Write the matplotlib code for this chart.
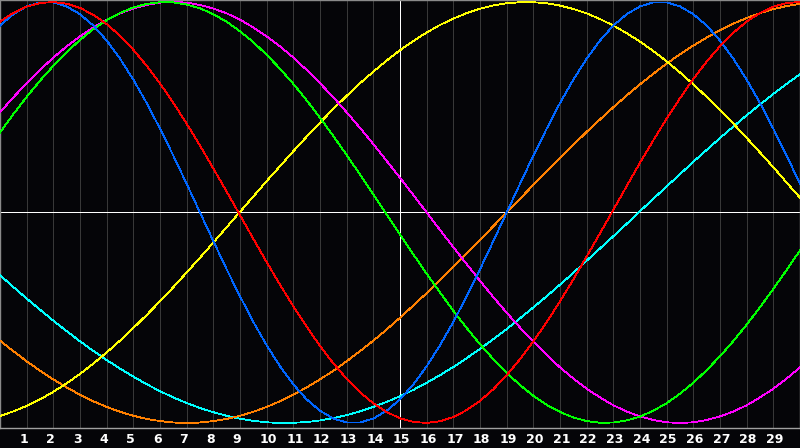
import numpy as np
import matplotlib
matplotlib.use("Agg")
import matplotlib.pyplot as plt
import matplotlib.transforms as mtransforms

# %%
# values every half day (day 0 .. 30), scale -1 .. 1
days = [i / 2 for i in range(61)]
day_labels = [str(d) for d in range(1, 30)]

blue = [0.888, 0.942, 0.979, 0.998, 0.998, 0.979, 0.942, 0.888, 0.817, 0.731,
        0.631, 0.520, 0.398, 0.270, 0.136, 0.000, -0.136, -0.270, -0.398, -0.520,
        -0.631, -0.731, -0.817, -0.888, -0.942, -0.979, -0.998, -0.998, -0.979, -0.942,
        -0.888, -0.817, -0.731, -0.631, -0.520, -0.398, -0.270, -0.136, 0.000, 0.136,
        0.270, 0.398, 0.520, 0.631, 0.731, 0.817, 0.888, 0.942, 0.979, 0.998,
        0.998, 0.979, 0.942, 0.888, 0.817, 0.731, 0.631, 0.520, 0.398, 0.270, 0.136]
red = [0.907, 0.948, 0.978, 0.995, 1.000, 0.992, 0.972, 0.939, 0.895, 0.840,
       0.773, 0.697, 0.613, 0.521, 0.422, 0.318, 0.209, 0.099, -0.013, -0.125,
       -0.236, -0.343, -0.446, -0.543, -0.634, -0.717, -0.790, -0.854, -0.907, -0.948,
       -0.978, -0.995, -1.000, -0.992, -0.972, -0.939, -0.895, -0.840, -0.773, -0.697,
       -0.613, -0.521, -0.422, -0.318, -0.209, -0.099, 0.013, 0.125, 0.236, 0.343,
       0.446, 0.543, 0.634, 0.717, 0.790, 0.854, 0.907, 0.948, 0.978, 0.995, 1.000]
green = [0.380, 0.467, 0.549, 0.626, 0.697, 0.762, 0.820, 0.871, 0.914, 0.948,
         0.974, 0.991, 0.999, 0.998, 0.988, 0.970, 0.942, 0.906, 0.861, 0.809,
         0.749, 0.683, 0.611, 0.533, 0.450, 0.363, 0.273, 0.180, 0.086, -0.010,
         -0.105, -0.199, -0.291, -0.380, -0.467, -0.549, -0.626, -0.697, -0.762, -0.820,
         -0.871, -0.914, -0.948, -0.974, -0.991, -0.999, -0.998, -0.988, -0.970, -0.942,
         -0.906, -0.861, -0.809, -0.749, -0.683, -0.611, -0.533, -0.450, -0.363, -0.273, -0.180]
magenta = [0.476, 0.547, 0.614, 0.677, 0.736, 0.789, 0.837, 0.879, 0.916, 0.946,
           0.969, 0.986, 0.997, 1.000, 0.997, 0.986, 0.969, 0.946, 0.916, 0.879,
           0.837, 0.789, 0.736, 0.677, 0.614, 0.547, 0.476, 0.402, 0.325, 0.245,
           0.165, 0.083, 0.000, -0.083, -0.165, -0.245, -0.325, -0.402, -0.476, -0.547,
           -0.614, -0.677, -0.736, -0.789, -0.837, -0.879, -0.916, -0.946, -0.969, -0.986,
           -0.997, -1.000, -0.997, -0.986, -0.969, -0.946, -0.916, -0.879, -0.837, -0.789, -0.736]
yellow = [-0.967, -0.945, -0.919, -0.888, -0.852, -0.812, -0.767, -0.718, -0.665, -0.609,
          -0.549, -0.487, -0.422, -0.355, -0.285, -0.215, -0.143, -0.070, 0.003, 0.076,
          0.149, 0.220, 0.291, 0.360, 0.427, 0.492, 0.554, 0.614, 0.669, 0.722,
          0.771, 0.815, 0.855, 0.891, 0.921, 0.947, 0.968, 0.984, 0.994, 0.999,
          0.999, 0.994, 0.983, 0.967, 0.946, 0.919, 0.888, 0.852, 0.812, 0.767,
          0.718, 0.665, 0.609, 0.549, 0.486, 0.422, 0.354, 0.285, 0.215, 0.142, 0.070]
orange = [-0.609, -0.659, -0.707, -0.752, -0.793, -0.831, -0.866, -0.897, -0.924, -0.947,
          -0.966, -0.981, -0.991, -0.998, -1.000, -0.998, -0.991, -0.981, -0.966, -0.947,
          -0.924, -0.897, -0.866, -0.831, -0.793, -0.752, -0.707, -0.659, -0.609, -0.556,
          -0.500, -0.442, -0.383, -0.321, -0.259, -0.195, -0.131, -0.065, 0.000, 0.065,
          0.131, 0.195, 0.259, 0.321, 0.383, 0.442, 0.500, 0.556, 0.609, 0.659,
          0.707, 0.752, 0.793, 0.831, 0.866, 0.897, 0.924, 0.947, 0.966, 0.981, 0.991]
cyan = [-0.298, -0.354, -0.409, -0.462, -0.514, -0.564, -0.612, -0.658, -0.701, -0.742,
        -0.780, -0.816, -0.849, -0.879, -0.905, -0.929, -0.949, -0.966, -0.980, -0.990,
        -0.997, -1.000, -0.999, -0.996, -0.988, -0.977, -0.963, -0.945, -0.924, -0.900,
        -0.873, -0.843, -0.809, -0.773, -0.734, -0.692, -0.648, -0.602, -0.554, -0.503,
        -0.451, -0.398, -0.343, -0.287, -0.229, -0.171, -0.113, -0.054, 0.006, 0.065,
        0.124, 0.182, 0.241, 0.297, 0.354, 0.408, 0.462, 0.513, 0.563, 0.611, 0.657]

# %%
bg = '#050508'
fig = plt.figure(figsize=(8, 4.48), dpi=100)
fig.set_facecolor(bg)
ax = fig.add_axes([0, 20 / 448, 1, 428 / 448])
ax.set_facecolor(bg)

# day grid
for d in range(1, 30):
    if d != 15:
        ax.axvline(d, color='#383838', lw=0.6, zorder=1, antialiased=False)
ax.axvline(15, color='white', lw=0.6, zorder=2, antialiased=False)
ax.axhline(0, color='white', lw=0.6, zorder=2, antialiased=False)

series = [(cyan, '#00ffff'), (orange, '#ff8000'), (yellow, '#ffff00'),
          (magenta, '#ff00ff'), (green, '#00ff00'), (blue, '#0066ff'), (red, '#ff0000')]
for vals, col in series:
    ax.plot(days, vals, color=col, lw=0.6, zorder=3, antialiased=False)

ax.set_xlim(0, 30)
ax.set_ylim(-1.024, 1.0095)
ax.set_xticks([])
ax.set_yticks([])
for s in ax.spines.values():
    s.set_color('#8a8a8a')
    s.set_linewidth(1.0)
ax.spines['bottom'].set_color('#a0a0a0')

trans = mtransforms.blended_transform_factory(ax.transData, ax.transAxes)
for i, lab in enumerate(day_labels):
    ax.text(i + 1 - 0.27, -11 / 428, lab, transform=trans, color='white',
            fontsize=9, fontweight='bold', ha='left', va='center',
            family='DejaVu Sans', clip_on=False)

fig.savefig('out.png', dpi=100, facecolor=bg)
